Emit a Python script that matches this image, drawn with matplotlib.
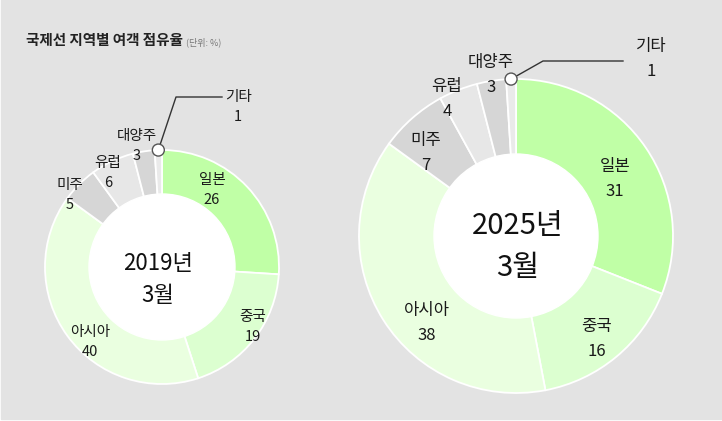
import numpy as np
import matplotlib
matplotlib.use('Agg')
import matplotlib.pyplot as plt
from matplotlib.patches import Circle, Rectangle

plt.rcParams['font.family'] = ['Noto Sans CJK KR', 'DejaVu Sans']

W, H = 722, 421

regions = ['일본', '중국', '아시아', '미주', '유럽', '대양주', '기타']
share_2019 = [26, 19, 40, 5, 6, 3, 1]
share_2025 = [31, 16, 38, 7, 4, 3, 1]
colors = ['#c0ffa6', '#dcffd0', '#eaffe0', '#d6d6d6', '#e7e7e7', '#d6d6d6', '#eaeaea']

# where the region name sits (pixel coords of the reference, y down); value goes below it
pos_2019 = {'일본': (212, 180), '중국': (253, 317), '아시아': (90, 332), '미주': (70, 185),
            '유럽': (108, 163), '대양주': (137, 136), '기타': (238, 97)}
pos_2025 = {'일본': (615, 166), '중국': (597, 327), '아시아': (427, 310), '미주': (426, 140),
            '유럽': (447, 87), '대양주': (491, 63), '기타': (651, 46)}

charts = [
    dict(vals=share_2019, c=(162, 267), r=117, r_in=73, pos=pos_2019, fs=10.5, gap=20,
         title=['2019년', '3월'], tfs=16, tw='normal', tx=158, ty=(263, 295),
         knee=(176, 97), tail=222),
    dict(vals=share_2025, c=(516, 236), r=157, r_in=82, pos=pos_2025, fs=12, gap=25,
         title=['2025년', '3월'], tfs=21, tw='medium', tx=518, ty=(226, 268),
         knee=(543, 61), tail=623),
]

fig = plt.figure(figsize=(W / 100, H / 100), dpi=100, facecolor='white')
ax = fig.add_axes([0, 0, 1, 1])
ax.set_facecolor('white')
ax.add_patch(Rectangle((1, 2), W, H, color='#e3e3e3', zorder=0))

def Y(y):
    return H - y

for ch in charts:
    cx, cy = ch['c']
    ax.pie(ch['vals'], colors=colors, startangle=90, counterclock=False,
           radius=ch['r'], center=(cx, Y(cy)), frame=True,
           wedgeprops=dict(edgecolor='white', linewidth=1.3))
    ax.add_patch(Circle((cx, Y(cy)), ch['r_in'], color='white', zorder=5))

    for name, v in zip(regions, ch['vals']):
        x, y = ch['pos'][name]
        ax.text(x, Y(y), name, ha='center', va='center', fontsize=ch['fs'], color='#1a1a1a', zorder=6)
        ax.text(x, Y(y) - ch['gap'], str(v), ha='center', va='center', fontsize=ch['fs'], color='#1a1a1a', zorder=6)

    # leader for the tiny "기타" slice, from the middle of the slice
    frac = (sum(ch['vals']) - ch['vals'][-1] / 2) / sum(ch['vals'])
    ang = np.pi / 2 - 2 * np.pi * frac
    mx, my = cx + ch['r'] * np.cos(ang), Y(cy) + ch['r'] * np.sin(ang)
    kx, ky = ch['knee']
    ax.plot([mx, kx, ch['tail']], [my, Y(ky), Y(ky)], color='#333333', lw=1, zorder=7)
    ax.add_patch(Circle((mx, my), 6, facecolor='white', edgecolor='#555555', lw=1, zorder=8))

    for line, ty in zip(ch['title'], ch['ty']):
        ax.text(ch['tx'], Y(ty), line, ha='center', va='center',
                fontsize=ch['tfs'], fontweight=ch['tw'], color='#111111', zorder=9)

ax.text(26, Y(40), '국제선 지역별 여객 점유율', ha='left', va='center', fontsize=10.5,
        fontweight='bold', color='#222222')
ax.text(186, Y(42), '(단위: %)', ha='left', va='center', fontsize=6.5, color='#777777')

ax.set_xlim(0, W)
ax.set_ylim(0, H)
ax.set_aspect('equal')
ax.axis('off')

fig.savefig('out.png', dpi=100, facecolor='white')
